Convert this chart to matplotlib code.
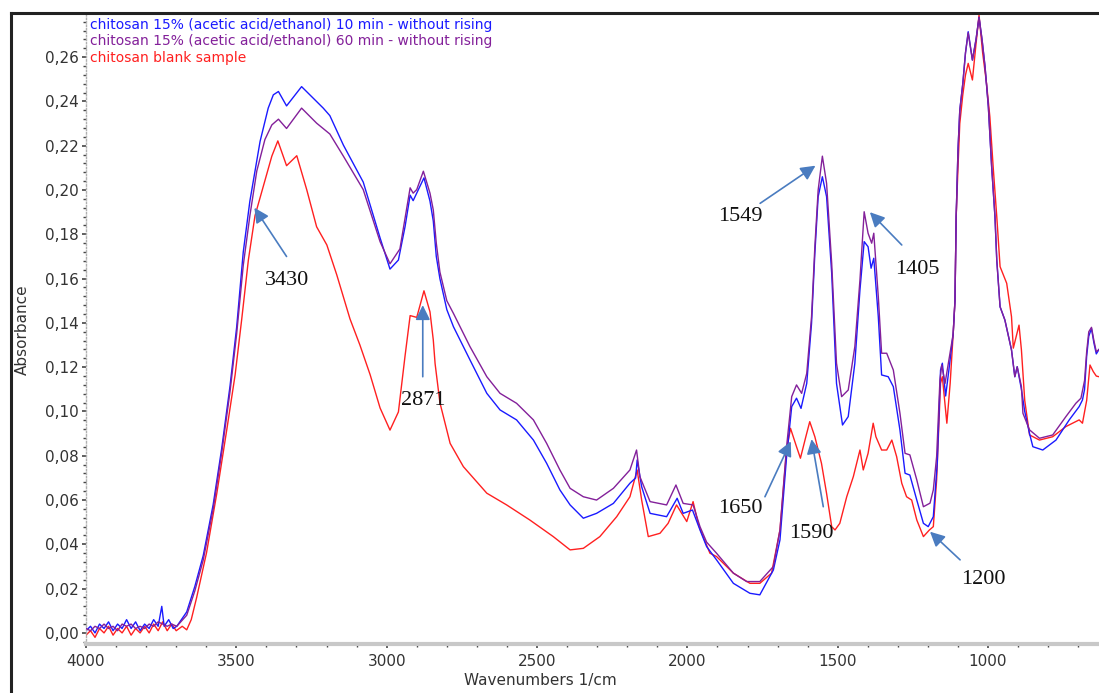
import matplotlib
matplotlib.use("Agg")
import matplotlib.pyplot as plt
from matplotlib.ticker import FuncFormatter, MultipleLocator
from matplotlib.lines import Line2D

# ---------------- data ----------------
wn_blue = [4000, 3985, 3970, 3955, 3940, 3925, 3910, 3895, 3880, 3865, 3850, 3835, 3820, 3805, 3790,
           3775, 3760, 3748, 3740, 3725, 3710, 3698, 3665, 3638, 3610, 3577, 3549, 3521, 3499, 3477,
           3455, 3421, 3394, 3377, 3360, 3333, 3283, 3211, 3189, 3144, 3078, 3022, 2989, 2961, 2939,
           2922, 2912, 2900, 2876, 2856, 2845, 2835, 2823, 2800, 2778, 2723, 2667, 2623, 2568, 2512,
           2468, 2424, 2390, 2346, 2302, 2246, 2191, 2172, 2167, 2152, 2124, 2069, 2034, 2014, 1983,
           1958, 1936, 1903, 1847, 1792, 1759, 1714, 1692, 1670, 1653, 1637, 1622, 1603, 1587, 1576,
           1565, 1551, 1537, 1520, 1504, 1484, 1465, 1443, 1426, 1412, 1399, 1389, 1380, 1365, 1354,
           1332, 1315, 1293, 1276, 1260, 1237, 1215, 1199, 1182, 1169, 1158, 1152, 1141, 1130, 1116,
           1110, 1106, 1100, 1094, 1084, 1075, 1066, 1052, 1040, 1030, 1020, 1010, 999, 988, 977,
           971, 960, 944, 922, 911, 903, 889, 878, 862, 851, 818, 774, 730, 697, 686, 679, 672, 665,
           656, 648, 640, 631]
abs_blue = [0.001, 0.003, 0.000, 0.004, 0.002, 0.005, 0.001, 0.004, 0.002, 0.006, 0.002, 0.005, 0.001, 0.004, 0.002,
            0.006, 0.003, 0.012, 0.003, 0.006, 0.002, 0.003, 0.0095, 0.021, 0.035, 0.058, 0.083, 0.1115, 0.138, 0.172,
            0.195, 0.222, 0.237, 0.243, 0.2445, 0.238, 0.2467, 0.237, 0.2336, 0.2203, 0.2036, 0.1784, 0.1643, 0.1684, 0.1834,
            0.1977, 0.1952, 0.1986, 0.2055, 0.195, 0.186, 0.170, 0.160, 0.146, 0.1383, 0.1233, 0.1082, 0.1007, 0.0962, 0.0871,
            0.0766, 0.0646, 0.0578, 0.0518, 0.054, 0.0585, 0.0676, 0.070, 0.0781, 0.066, 0.054, 0.0525, 0.0608, 0.054, 0.0555,
            0.0465, 0.039, 0.033, 0.0224, 0.0179, 0.0172, 0.0284, 0.042, 0.0796, 0.1022, 0.106, 0.1014, 0.1127, 0.1398, 0.1714,
            0.197, 0.206, 0.197, 0.1624, 0.1127, 0.0939, 0.0977, 0.1218, 0.1549, 0.1767, 0.1744, 0.1647, 0.1692, 0.1428, 0.1165,
            0.1157, 0.1112, 0.0916, 0.0721, 0.0713, 0.060, 0.0495, 0.048, 0.0525, 0.0766, 0.1187, 0.1218, 0.107, 0.119, 0.135,
            0.150, 0.188, 0.218, 0.236, 0.248, 0.262, 0.2715, 0.2587, 0.268, 0.278, 0.268, 0.2557, 0.2376, 0.2105, 0.188,
            0.1684, 0.1473, 0.1413, 0.1278, 0.1157, 0.1202, 0.110, 0.100, 0.090, 0.0841, 0.0826, 0.0871, 0.0962, 0.1022, 0.1052, 0.110, 0.125, 0.134,
            0.1375, 0.131, 0.126, 0.128]

wn_purple = [4000, 3985, 3970, 3955, 3940, 3925, 3910, 3895, 3880, 3865, 3850, 3835, 3820, 3805, 3790,
             3775, 3760, 3745, 3730, 3715, 3698, 3665, 3638, 3610, 3577, 3549, 3521, 3499, 3477, 3455,
             3432, 3405, 3382, 3360, 3333, 3283, 3233, 3189, 3144, 3078, 3022, 2989, 2956, 2922, 2912,
             2900, 2878, 2856, 2845, 2835, 2823, 2800, 2778, 2723, 2667, 2623, 2568, 2512, 2468, 2424,
             2390, 2346, 2302, 2246, 2191, 2169, 2158, 2124, 2069, 2038, 2014, 1981, 1958, 1936, 1903,
             1847, 1803, 1759, 1714, 1692, 1670, 1653, 1637, 1620, 1603, 1587, 1576, 1565, 1551, 1537,
             1520, 1504, 1487, 1465, 1443, 1426, 1412, 1399, 1387, 1380, 1365, 1354, 1337, 1315, 1293,
             1276, 1260, 1237, 1215, 1193, 1182, 1171, 1160, 1154, 1143, 1132, 1116, 1110, 1106, 1100,
             1094, 1084, 1075, 1066, 1052, 1040, 1030, 1020, 1010, 999, 988, 977, 971, 960, 944,
             922, 911, 903, 889, 884, 862, 829, 785, 741, 708, 691, 679, 672, 665, 656, 648, 640, 631]
abs_purple = [0.002, 0.001, 0.003, 0.002, 0.004, 0.002, 0.003, 0.001, 0.004, 0.003, 0.004, 0.002, 0.003, 0.002, 0.004,
              0.003, 0.005, 0.004, 0.003, 0.004, 0.003, 0.008, 0.019, 0.033, 0.056, 0.081, 0.109, 0.135, 0.166, 0.1884,
              0.2086, 0.2228, 0.2294, 0.232, 0.2278, 0.237, 0.2302, 0.2253, 0.2153, 0.2002, 0.1767, 0.1667, 0.1734, 0.201, 0.1986,
              0.2002, 0.2085, 0.1986, 0.191, 0.176, 0.163, 0.150, 0.1443, 0.1293, 0.1157, 0.1082, 0.1037, 0.0962, 0.0856, 0.0736,
              0.0653, 0.0615, 0.060, 0.0653, 0.0736, 0.0826, 0.0706, 0.0593, 0.0578, 0.0668, 0.0585, 0.0578, 0.048, 0.041, 0.036,
              0.027, 0.0232, 0.0232, 0.030, 0.0465, 0.0841, 0.1067, 0.112, 0.1082, 0.1172, 0.1428, 0.1744, 0.200, 0.2153, 0.203,
              0.1669, 0.1218, 0.1067, 0.1097, 0.1293, 0.1594, 0.1902, 0.1805, 0.176, 0.1805, 0.1518, 0.1263, 0.1263, 0.1187, 0.0992,
              0.0811, 0.0804, 0.0691, 0.057, 0.0586, 0.0646, 0.0796, 0.1142, 0.121, 0.1127, 0.1218, 0.135, 0.150, 0.188, 0.218,
              0.236, 0.248, 0.262, 0.271, 0.2587, 0.268, 0.278, 0.268, 0.2557, 0.2376, 0.2105, 0.188, 0.1684, 0.1473, 0.1413,
              0.1278, 0.1157, 0.1202, 0.1112, 0.0992, 0.0917, 0.0879, 0.0894, 0.0977, 0.1037, 0.106, 0.114, 0.127, 0.136, 0.138, 0.132, 0.127, 0.128]

wn_red = [4000, 3985, 3970, 3955, 3940, 3925, 3910, 3895, 3880, 3865, 3850, 3835, 3820, 3805, 3790,
          3775, 3760, 3745, 3730, 3715, 3700, 3680, 3665, 3650, 3632, 3599, 3565, 3532, 3504, 3482,
          3460, 3438, 3410, 3382, 3362, 3333, 3299, 3266, 3233, 3199, 3166, 3122, 3089, 3055, 3022,
          2989, 2961, 2939, 2922, 2900, 2876, 2856, 2845, 2839, 2823, 2789, 2745, 2667, 2601, 2524,
          2446, 2390, 2346, 2291, 2235, 2191, 2167, 2152, 2130, 2091, 2064, 2036, 2002, 1981, 1964,
          1958, 1925, 1903, 1847, 1792, 1759, 1720, 1692, 1670, 1657, 1637, 1624, 1606, 1593, 1576,
          1554, 1537, 1520, 1509, 1493, 1470, 1448, 1426, 1415, 1399, 1382, 1373, 1354, 1337, 1320,
          1304, 1287, 1271, 1254, 1237, 1215, 1195, 1182, 1171, 1158, 1152, 1137, 1126, 1116, 1110,
          1106, 1100, 1094, 1084, 1075, 1066, 1052, 1040, 1030, 1018, 1005, 994, 983, 971, 960,
          938, 922, 916, 897, 889, 878, 862, 829, 785, 741, 697, 686, 672, 661, 650, 640, 631]
abs_red = [-0.001, 0.001, -0.002, 0.002, 0.000, 0.003, -0.001, 0.002, 0.000, 0.003, -0.001, 0.002, 0.000, 0.003, 0.000,
           0.004, 0.001, 0.005, 0.001, 0.004, 0.001, 0.003, 0.0014, 0.006, 0.016, 0.0363, 0.063, 0.0916, 0.1166, 0.1418,
           0.1684, 0.1884, 0.2018, 0.2153, 0.2222, 0.211, 0.2155, 0.2002, 0.1834, 0.1752, 0.1617, 0.1418, 0.130, 0.1166, 0.1016,
           0.0916, 0.0998, 0.125, 0.1433, 0.1425, 0.1545, 0.145, 0.1323, 0.1216, 0.104, 0.0856, 0.0751, 0.0631, 0.0578, 0.051,
           0.0435, 0.0375, 0.0382, 0.0435, 0.0525, 0.0615, 0.0736, 0.060, 0.0435, 0.045, 0.0495, 0.0578, 0.0503, 0.0593, 0.0495,
           0.047, 0.036, 0.0345, 0.027, 0.0224, 0.0224, 0.027, 0.0465, 0.0826, 0.0924, 0.0841, 0.0789, 0.0886, 0.0954, 0.0886,
           0.0766, 0.063, 0.048, 0.0465, 0.0495, 0.0615, 0.0706, 0.0826, 0.0736, 0.0811, 0.0947, 0.0886, 0.0826, 0.0826, 0.0871,
           0.0796, 0.0676, 0.0615, 0.060, 0.051, 0.0435, 0.0465, 0.048, 0.0691, 0.1127, 0.1157, 0.0947, 0.1127, 0.135, 0.150,
           0.188, 0.210, 0.230, 0.243, 0.252, 0.2572, 0.2497, 0.266, 0.279, 0.262, 0.2481, 0.2331, 0.2105, 0.188, 0.1654,
           0.1579, 0.1428, 0.1286, 0.139, 0.1278, 0.105, 0.0894, 0.0871, 0.0886, 0.0932, 0.0962, 0.0947, 0.105, 0.121, 0.118, 0.116, 0.1157]

series_labels = ["chitosan 15% (acetic acid/ethanol) 10 min - without rising",
                 "chitosan 15% (acetic acid/ethanol) 60 min - without rising",
                 "chitosan blank sample"]

y_ticks = [0.00, 0.02, 0.04, 0.06, 0.08, 0.10, 0.12, 0.14, 0.16, 0.18, 0.20, 0.22, 0.24, 0.26]
x_ticks = [4000, 3500, 3000, 2500, 2000, 1500, 1000]

# annotations: label, text position (wn, abs), arrow tail (wn, abs), arrow tip (wn, abs)
ann_labels = ["3430", "2871", "1549", "1405", "1650", "1590", "1200"]
ann_text = [(3330, 0.159), (2880, 0.105), (1825, 0.188), (1236, 0.164), (1825, 0.056), (1587, 0.045), (1017, 0.024)]
ann_tail = [(3333, 0.170), (2880, 0.1157), (1758, 0.194), (1287, 0.1752), (1742, 0.0615), (1548, 0.057), (1093, 0.033)]
ann_tip = [(3440, 0.192), (2880, 0.148), (1574, 0.211), (1393, 0.190), (1656, 0.0865), (1587, 0.0875), (1193, 0.0457)]

# ---------------- figure ----------------
W, H = 1099, 693
fig = plt.figure(figsize=(W / 100, H / 100), dpi=100)
ax = fig.add_axes([86 / W, 1 - 644 / H, 1 - 86 / W, (644 - 14) / H])

c_blue = "#1a1aff"
c_purple = "#83209a"
c_red = "#ff2020"

ax.plot(wn_red, abs_red, color=c_red, lw=1.0, zorder=2)
ax.plot(wn_purple, abs_purple, color=c_purple, lw=1.0, zorder=3)
ax.plot(wn_blue, abs_blue, color=c_blue, lw=1.0, zorder=2.5)

ax.set_xlim(4000, 631)
ax.set_ylim(-0.005, 0.2795)

ax.set_xticks(x_ticks)
ax.set_yticks(y_ticks)
ax.xaxis.set_minor_locator(MultipleLocator(100))
ax.yaxis.set_minor_locator(MultipleLocator(0.004))
ax.yaxis.set_major_formatter(FuncFormatter(lambda v, p: f"{v:.2f}".replace(".", ",")))

for s in ("top", "right"):
    ax.spines[s].set_visible(False)
ax.spines["left"].set_color("#b0b0b0")
ax.spines["left"].set_linewidth(1.0)
ax.spines["left"].set_linestyle((0, (1, 1.5)))
ax.spines["bottom"].set_color("#c8c8c8")
ax.spines["bottom"].set_linewidth(3)

ax.tick_params(axis="both", which="major", labelsize=11, labelcolor="#333333", color="#444444",
               direction="out", length=3, width=1.2)
ax.tick_params(axis="both", which="minor", color="#444444", direction="out", length=2, width=1)
ax.tick_params(axis="x", pad=4)
ax.tick_params(axis="y", pad=2)

fig.text(22 / W, 1 - 330 / H, "Absorbance", rotation=90, ha="center", va="center",
         fontsize=11, color="#333333")
fig.text(540 / W, 1 - 680 / H, "Wavenumbers 1/cm", ha="center", va="center",
         fontsize=11, color="#333333")

# series labels (legend-like text in the corner)
for i, (lab, col) in enumerate(zip(series_labels, [c_blue, c_purple, c_red])):
    ax.text(90 / W - 86 / W, 0, "", transform=ax.transAxes)
    fig.text(90 / W, 1 - (25 + 16.5 * i) / H, lab, color=col, fontsize=10, ha="left", va="center")

# annotations
arrow_col = "#4a7cc0"
for lab, tp, tl, tip in zip(ann_labels, ann_text, ann_tail, ann_tip):
    ax.text(tp[0], tp[1], lab, ha="center", va="center", fontsize=16,
            family="Liberation Serif", color="#111111")
    ax.annotate("", xy=tip, xytext=tl,
                arrowprops=dict(arrowstyle="-|>", color=arrow_col, lw=1.2,
                                mutation_scale=22, shrinkA=0, shrinkB=0))

# outer frame
fig.add_artist(Line2D([11 / W, 11 / W], [0, 1 - 13 / H], color="#222222", lw=2.2))
fig.add_artist(Line2D([11 / W, 1], [1 - 13 / H, 1 - 13 / H], color="#222222", lw=2.2))

fig.savefig("out.png", dpi=100)
